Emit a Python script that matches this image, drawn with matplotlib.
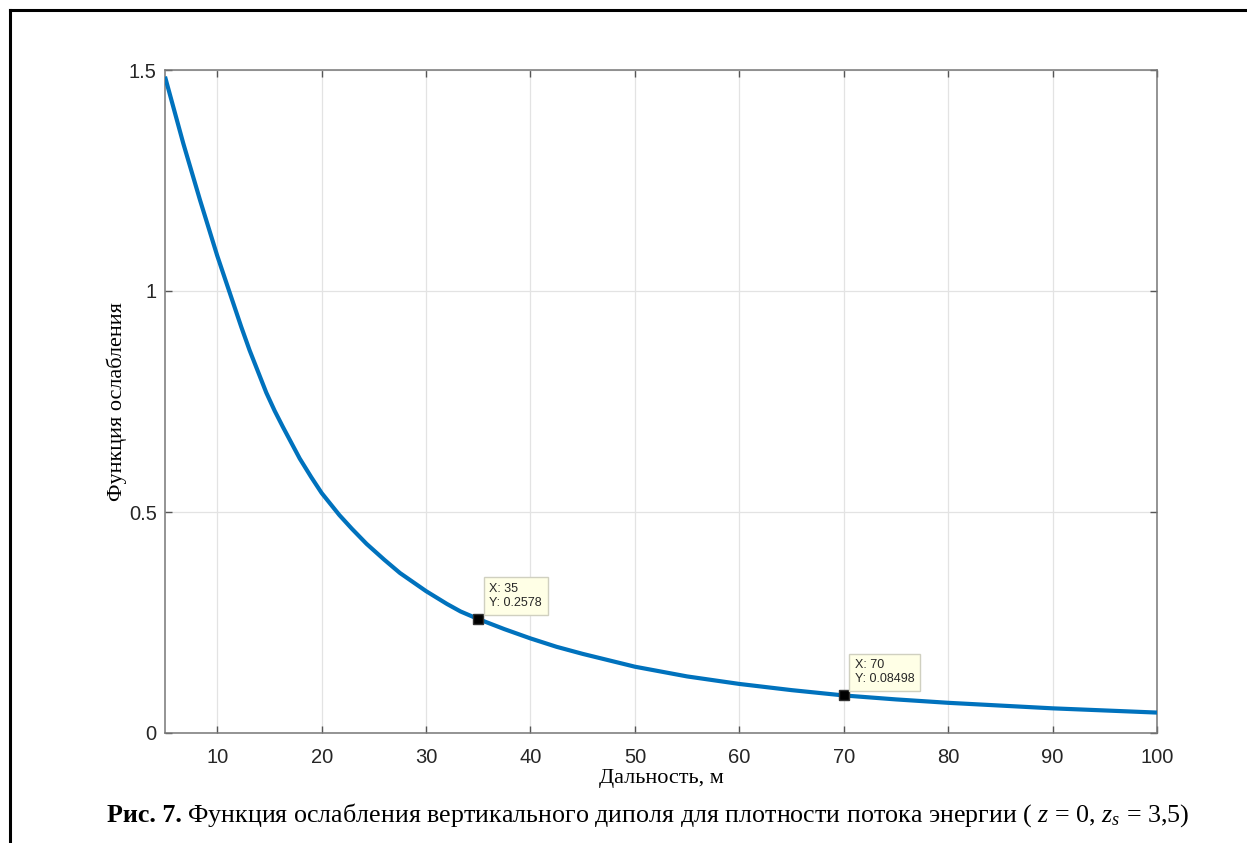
import matplotlib
matplotlib.use('Agg')
import matplotlib.pyplot as plt
from matplotlib.lines import Line2D

# curve
dist = [5, 6.75, 8.35, 10, 11.5, 12.3, 13.1, 14.7, 15.5, 16.3, 17.9, 19, 20, 21.7,
        22.9, 24.3, 26, 27.5, 30, 32, 33.3, 35, 37.5, 40, 42.5, 45, 50, 55, 60, 65,
        70, 75, 80, 90, 100]
atten = [1.485, 1.334, 1.206, 1.080, 0.975, 0.919, 0.866, 0.770, 0.729, 0.692, 0.621,
         0.579, 0.543, 0.493, 0.462, 0.428, 0.392, 0.362, 0.321, 0.292, 0.275, 0.2578,
         0.235, 0.214, 0.195, 0.179, 0.150, 0.128, 0.111, 0.097, 0.08498, 0.076,
         0.0683, 0.0558, 0.0462]

# data tips
tip_x = [35, 70]
tip_y = [0.2578, 0.08498]
tip_text = ['X: 35\nY: 0.2578', 'X: 70\nY: 0.08498']

xticks = [10, 20, 30, 40, 50, 60, 70, 80, 90, 100]
yticks = [0, 0.5, 1, 1.5]
ytick_labels = ['0', '0.5', '1', '1.5']

plt.rcParams['mathtext.fontset'] = 'custom'
plt.rcParams['mathtext.rm'] = 'Liberation Serif'
plt.rcParams['mathtext.it'] = 'Liberation Serif:italic'

W, H = 1247, 843
fig = plt.figure(figsize=(W / 100, H / 100), dpi=100)
ax = fig.add_axes([165 / W, 1 - 733 / H, 992 / W, 663 / H])

ax.plot(dist, atten, color='#0072BD', lw=3.0, solid_capstyle='butt',
        solid_joinstyle='round', zorder=3)
ax.plot(tip_x, tip_y, 's', color='black', markersize=6.5, mec='#333333', zorder=4)
for tx, ty, s in zip(tip_x, tip_y, tip_text):
    ax.annotate(s, xy=(tx, ty), xytext=(11, 10), textcoords='offset pixels',
                ha='left', va='bottom', fontsize=9, family='Liberation Sans',
                color='#262626', linespacing=1.25, zorder=5,
                bbox=dict(boxstyle='square,pad=0.45', fc='#FFFFE6', ec='#d0d0c0', lw=1))

ax.set_xlim(5, 100)
ax.set_ylim(0, 1.5)
ax.set_xticks(xticks)
ax.set_yticks(yticks)
ax.set_yticklabels(ytick_labels)
ax.grid(True, color='#e3e3e3', lw=0.9)
ax.set_axisbelow(True)
ax.tick_params(direction='in', length=5, width=1, color='#555555',
               top=True, right=True, labelsize=14.5, labelcolor='#262626')
ax.tick_params(axis='x', pad=11)
ax.tick_params(axis='y', pad=6)
for lab in ax.get_xticklabels() + ax.get_yticklabels():
    lab.set_family('Liberation Sans')
for sp in ax.spines.values():
    sp.set_color('#777777')
    sp.set_linewidth(1.1)

ax.set_xlabel('Дальность, м', family='Liberation Serif', fontsize=16, va='center')
ax.xaxis.set_label_coords(0.5, (733 - 779) / 663)
ax.set_ylabel('Функция ослабления', family='Liberation Serif', fontsize=16, va='center')
ax.yaxis.set_label_coords((117 - 165) / 992, 0.5)

# caption: bold part then normal part on the same baseline
cap_y = 1 - 822 / H
t1 = fig.text(107 / W, cap_y, 'Рис. 7.', family='Liberation Serif', fontsize=18.7,
              weight='bold', va='baseline', ha='left')
fig.canvas.draw()
bb = t1.get_window_extent()
fig.text(bb.x1 / W + 5 / W, cap_y,
         'Функция ослабления вертикального диполя для плотности потока энергии '
         '( $z$ = 0, $z_s$ = 3,5)',
         family='Liberation Serif', fontsize=18.7, va='baseline', ha='left')

# outer frame of the page figure
fig.add_artist(Line2D([10 / W, 1.0], [1 - 10 / H, 1 - 10 / H], color='black', lw=2.2,
                      transform=fig.transFigure))
fig.add_artist(Line2D([10 / W, 10 / W], [1 - 10 / H, 0.0], color='black', lw=2.2,
                      transform=fig.transFigure))

fig.savefig('out.png', dpi=100)
